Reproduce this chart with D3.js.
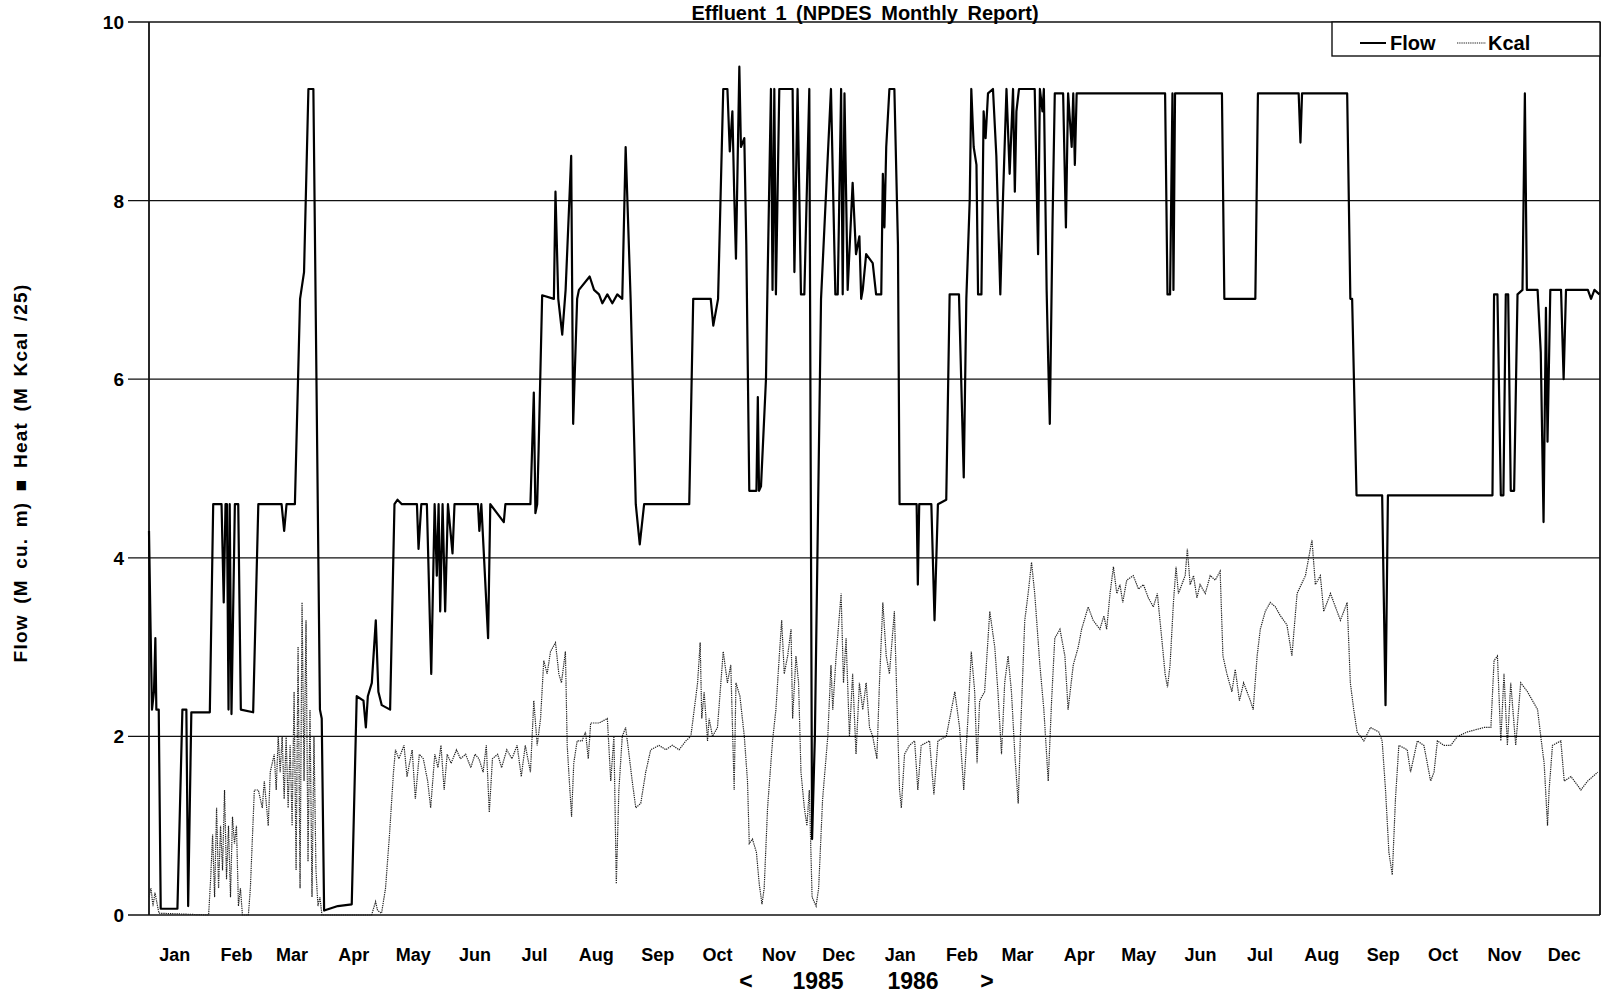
<!DOCTYPE html>
<html>
<head>
<meta charset="utf-8">
<title>Effluent 1 (NPDES Monthly Report)</title>
<style>
  body { margin: 0; background: #fff; }
  svg { display: block; font-family: "Liberation Sans", Arial, sans-serif; font-weight: bold; }
</style>
</head>
<body>
<div id="chart"></div>
<script src="https://d3js.org/d3.v7.min.js"></script>
<script>
// month labels along the bottom, two years
const monthLabels = ["Jan","Feb","Mar","Apr","May","Jun","Jul","Aug","Sep","Oct","Nov","Dec",
                     "Jan","Feb","Mar","Apr","May","Jun","Jul","Aug","Sep","Oct","Nov","Dec"];
const yTicks = [0, 2, 4, 6, 8, 10];

// [days since 1 Jan 1985, value]
const flowPoints = [
  [0,4.3],[0.8,3.2],[1.5,2.3],[2.5,2.5],[3.2,3.1],[3.7,2.3],[4.9,2.3],[5.9,0.07],[14.3,0.07],[16.8,2.3],
  [18.8,2.3],[19.7,0.1],[21.3,2.27],[30.6,2.27],[32.3,4.6],[36.5,4.6],[37.6,3.5],[38.5,4.6],[39.2,4.6],[40,2.3],
  [40.6,4.6],[41.5,2.25],[43.2,4.6],[44.9,4.6],[46.2,2.3],[52.4,2.27],[55,4.6],[66.7,4.6],[68,4.3],[69.2,4.6],
  [73.4,4.6],[76,6.9],[78,7.2],[80.2,9.25],[82.7,9.25],[86,2.3],[86.9,2.2],[88.1,0.05],[95,0.1],[102,0.12],
  [104.5,2.45],[107.9,2.4],[109.1,2.1],[110.1,2.45],[112.1,2.6],[114.1,3.3],[115.4,2.5],[117.1,2.35],[121.3,2.3],[123.5,4.6],
  [125,4.65],[127.2,4.6],[134.8,4.6],[135.6,4.1],[137,4.6],[139.8,4.6],[142,2.7],[143.7,4.6],[144.8,3.8],[145.7,4.6],
  [146.5,3.4],[147.7,4.6],[149,3.4],[150.4,4.6],[152.7,4.05],[153.7,4.6],[165.5,4.6],[166.2,4.3],[167.2,4.6],[170.6,3.1],
  [171.7,4.6],[178.5,4.4],[179.3,4.6],[191.9,4.6],[193.6,5.85],[194.4,4.5],[195.3,4.6],[196,5.2],[197.8,6.94],[203.7,6.9],
  [204.5,8.1],[205.9,6.9],[207.9,6.5],[209.6,7.0],[212.4,8.5],[213.4,5.5],[215.4,6.9],[216.3,7.0],[221.7,7.15],[223.9,7.0],
  [226.4,6.95],[228.1,6.85],[230.6,6.95],[233.1,6.85],[235.6,6.95],[238.1,6.9],[239.8,8.6],[242.3,6.9],[244.9,4.6],[246.9,4.15],
  [249.1,4.6],[271.8,4.6],[273.8,6.9],[282.6,6.9],[283.9,6.6],[286.3,6.9],[288.9,9.25],[291,9.25],[292.2,8.55],[293.5,9.0],
  [294.4,8.1],[295.3,7.35],[296.2,8.5],[297,9.5],[297.8,8.6],[299.5,8.7],[300.5,7.5],[302,4.75],[305.6,4.75],[306.3,5.8],
  [306.9,4.75],[307.9,4.8],[310.4,6.0],[311.2,7.1],[312.9,9.25],[313.7,7.0],[314.6,9.25],[315.4,6.95],[317.1,9.25],[323.8,9.25],
  [324.7,7.2],[326.3,9.25],[328,6.95],[329.7,6.95],[332.2,9.25],[333.6,0.85],[335,2.0],[338.1,6.9],[343.1,9.25],[345.3,6.95],
  [346.5,6.95],[348.2,9.25],[349,6.95],[349.9,9.2],[351.5,7.0],[354,8.2],[355.7,7.4],[357.4,7.6],[358.3,6.9],[359.1,7.0],
  [360.8,7.4],[364.1,7.3],[365.8,6.95],[368.4,6.95],[369.2,8.3],[370,7.7],[370.9,8.6],[372.5,9.25],[375,9.25],[376.8,7.5],
  [377.6,4.6],[386.2,4.6],[386.8,3.7],[387.5,4.6],[393.6,4.6],[395.2,3.3],[396.9,4.6],[401.1,4.65],[402.8,6.95],[407.5,6.95],
  [409.9,4.9],[411.2,6.9],[412.9,8.0],[413.7,9.25],[414.9,8.6],[416.3,8.4],[417.1,6.95],[418.8,6.95],[419.9,9.0],[420.9,8.7],
  [422.1,9.2],[424.6,9.25],[426.3,8.5],[428.3,6.95],[429.6,8.0],[431.4,9.25],[433,8.3],[434.7,9.25],[435.6,8.1],[436.4,9.0],
  [437.7,9.25],[445.6,9.25],[447.3,7.4],[448.2,9.25],[449.5,9.0],[450.2,9.25],[451.6,7.0],[452.4,6.2],[453.2,5.5],[454.6,7.8],
  [455.7,9.2],[459.9,9.2],[461.3,7.7],[462.4,9.2],[464.2,8.6],[465,9.2],[465.8,8.4],[466.7,9.2],[511.2,9.2],[512.4,6.95],
  [513.7,6.95],[514.9,9.2],[515.4,7.0],[516.2,9.2],[539.8,9.2],[541,6.9],[556.6,6.9],[557.9,9.2],[578.4,9.2],[579.3,8.65],
  [580.1,9.2],[602.8,9.2],[604.4,6.9],[605.3,6.9],[607.5,4.7],[620.4,4.7],[622.1,2.35],[623.3,4.7],[675.9,4.7],[676.7,6.95],
  [678.4,6.95],[680.1,4.7],[681.4,4.7],[682.6,6.95],[683.8,6.95],[685.1,4.75],[686.8,4.75],[688.5,6.95],[691,7.0],[692.2,9.2],
  [693.2,7.0],[698.6,7.0],[700.2,6.3],[701.6,4.4],[702.8,6.8],[703.6,5.3],[705,7.0],[710.4,7.0],[711.7,6.0],[712.9,7.0],
  [723.9,7.0],[725.5,6.9],[727.2,7.0],[729.7,6.95]
];

const kcalPoints = [
  [0,0.2],[1,0.3],[2,0.1],[3,0.25],[5,0.02],[30,0],[31,0.4],[32,0.9],[33,0.2],[34,1.2],
  [35,0.3],[36,1.0],[37,0.5],[38,1.4],[39,0.4],[40,1.0],[41,0.2],[42,1.1],[43,0.8],[44,1.0],
  [45,0.1],[46,0.3],[47,0],[50,0],[51,0.3],[53,1.4],[55,1.4],[57,1.2],[58,1.5],[60,1.0],
  [61,1.6],[63,1.8],[64,1.4],[65,2.0],[66,1.6],[67,2.0],[68,1.3],[69,2.0],[70,1.2],[71,1.9],
  [72,1.0],[73,2.5],[74,0.5],[75,3.0],[76,0.3],[77,3.5],[78,1.5],[79,3.3],[80,0.6],[81,2.3],
  [82,0.2],[83,2.0],[84,0.5],[85,0.1],[86,0.2],[87,0],[112,0],[114,0.15],[115,0.05],[117,0.02],
  [119,0.3],[121,0.9],[123,1.6],[124,1.85],[125.7,1.75],[128.3,1.9],[129.8,1.55],[132.4,1.85],[134,1.3],[136,1.8],
  [138,1.75],[140.2,1.5],[141.7,1.2],[143.8,1.8],[145.4,1.65],[146.9,1.9],[148.5,1.4],[150,1.8],[152,1.7],[154.7,1.85],
  [156.7,1.75],[159.3,1.8],[161.9,1.65],[164,1.8],[166,1.75],[168.1,1.6],[169.7,1.9],[171.2,1.15],[172.8,1.75],[175.4,1.8],
  [177.4,1.65],[180,1.85],[182.6,1.75],[185.2,1.9],[187.3,1.55],[189.3,1.9],[191.9,1.6],[193.6,2.4],[195.3,1.9],[197,2.2],
  [198.6,2.85],[200.3,2.7],[202,2.95],[204.5,3.05],[206.2,2.7],[207.5,2.6],[209.5,2.95],[210.4,1.9],[211.2,1.6],[212.6,1.1],
  [213.7,1.7],[215.4,1.95],[217.9,1.95],[219.6,2.05],[221,1.75],[222.2,2.15],[226.4,2.15],[230.6,2.2],[232.3,1.5],[233.9,2.0],
  [235.1,0.35],[236.4,1.4],[238.1,2.0],[239.8,2.1],[241.5,1.8],[243.1,1.5],[244.9,1.2],[247.4,1.25],[249.9,1.6],[252.4,1.85],
  [256.6,1.9],[260,1.85],[263.3,1.9],[266.7,1.85],[270.1,1.95],[272.6,2.0],[274.3,2.3],[276,2.6],[277.3,3.05],[278.1,2.2],
  [279.3,2.5],[281,1.95],[281.8,2.2],[283.5,2.0],[286,2.1],[288.9,2.95],[291,2.6],[292.7,2.8],[294.4,1.4],[295.3,2.6],
  [297.3,2.45],[299.5,2.0],[301.1,1.5],[302,0.8],[303.6,0.85],[305.6,0.7],[307,0.35],[308.4,0.12],[309.5,0.3],[311.2,1.2],
  [313.7,1.95],[315.4,2.3],[317.1,2.9],[318.3,3.3],[319.6,2.7],[321.3,2.9],[323,3.2],[323.8,2.2],[325.5,2.9],[326.8,2.6],
  [328,1.6],[329.7,1.2],[331,1.0],[332.2,1.4],[333.6,0.2],[335.6,0.1],[336.9,0.3],[338.9,1.3],[341.5,2.0],[343.1,2.8],
  [344,2.3],[345.7,2.9],[348.2,3.6],[349.4,2.6],[350.7,3.1],[352.4,2.0],[354,2.7],[355.7,1.8],[357.4,2.6],[359.1,2.3],
  [360.8,2.6],[362.5,2.1],[364.1,2.0],[366.2,1.75],[367.5,2.6],[369.2,3.5],[370.9,2.9],[372.5,2.7],[375,3.4],[376.8,2.0],
  [377.6,1.4],[378.5,1.2],[380.1,1.8],[382.6,1.9],[385.2,1.95],[386.8,1.4],[388.5,1.9],[392.7,1.95],[394.9,1.35],[396.9,1.95],
  [401.1,2.0],[403.7,2.3],[405.4,2.5],[407.8,2.1],[409.9,1.4],[412,2.2],[413.7,2.95],[415.4,2.5],[416.6,1.7],[417.9,2.4],
  [420.4,2.5],[423,3.4],[425.5,3.0],[427.1,2.5],[428.9,1.8],[430.5,2.6],[432.2,2.9],[433.9,2.5],[435.6,1.8],[437.3,1.25],
  [438.4,2.0],[440.6,3.3],[442.3,3.6],[444,3.95],[445.6,3.6],[448.2,2.8],[450.2,2.3],[452.4,1.5],[454.1,2.4],[455.7,3.1],
  [458.3,3.2],[460.8,2.9],[462.4,2.3],[465,2.8],[467.5,3.0],[469.2,3.2],[472.5,3.45],[475,3.3],[478.4,3.2],[480.4,3.35],
  [481.8,3.2],[483.5,3.6],[485.2,3.9],[486.9,3.6],[488.5,3.7],[489.9,3.5],[491.9,3.75],[495.2,3.8],[497.8,3.65],[500.3,3.7],
  [502.8,3.55],[505.3,3.45],[507.3,3.6],[509.5,3.1],[511.2,2.7],[512.4,2.55],[513.7,2.8],[515.4,3.5],[516.7,3.9],[517.9,3.6],
  [519.6,3.7],[521.3,3.8],[522.4,4.1],[523.8,3.7],[525.5,3.8],[527.2,3.55],[528.8,3.7],[531.4,3.6],[533.9,3.8],[536.4,3.75],
  [538.9,3.85],[540.3,2.9],[542.3,2.7],[544.8,2.5],[546.5,2.75],[548.6,2.4],[550.7,2.6],[552.4,2.5],[554.1,2.4],[555.5,2.3],
  [557.5,2.9],[559.1,3.2],[561.6,3.4],[564.1,3.5],[566.7,3.45],[569.2,3.35],[572.5,3.25],[575,2.9],[577.6,3.6],[581.8,3.8],
  [585.1,4.2],[586.8,3.7],[589.3,3.8],[591,3.4],[594.4,3.6],[599.4,3.3],[602.8,3.5],[604.4,2.6],[606.1,2.3],[607.8,2.05],
  [611.2,1.95],[614.5,2.1],[618.7,2.05],[620.4,1.95],[622.1,1.4],[623.8,0.7],[625.5,0.45],[627.1,1.3],[628.8,1.9],[633,1.85],
  [634.7,1.6],[638.1,1.95],[641.4,1.9],[644.8,1.5],[646.5,1.6],[648.2,1.95],[651.5,1.9],[654.9,1.9],[658.3,2.0],[663.3,2.05],
  [671.7,2.1],[675.1,2.1],[676.7,2.85],[678.4,2.9],[680.1,1.95],[681.7,2.7],[683.4,1.9],[685.1,2.6],[687.6,1.9],[690.1,2.6],
  [693.5,2.5],[698.6,2.3],[700.2,2.0],[701.9,1.7],[703.6,1.0],[704.4,1.4],[706.1,1.9],[710.3,1.95],[712,1.5],[715.4,1.55],
  [720.4,1.4],[723.8,1.5],[728.9,1.6]
];

const width = 1609, height = 1001;
const svg = d3.select("#chart")
  .append("svg")
  .attr("width", width)
  .attr("height", height);

svg.append("rect").attr("width", width).attr("height", height).attr("fill", "#fff");

const start = new Date(1985, 0, 1);
const toDate = d => new Date(start.getTime() + d * 864e5);

const x = d3.scaleTime()
  .domain([start, new Date(1987, 0, 1)])
  .range([149, 1600]);

const y = d3.scaleLinear()
  .domain([0, 10])
  .range([915, 22]);

// horizontal grid lines, each sticking out left as a tick
svg.append("g")
  .selectAll("line")
  .data(yTicks)
  .join("line")
  .attr("x1", 128)
  .attr("x2", x.range()[1])
  .attr("y1", d => y(d))
  .attr("y2", d => y(d))
  .attr("stroke", "#111")
  .attr("stroke-width", d => (d === 0 || d === 10) ? 1.6 : 1.3);

// left and right frame
svg.append("line")
  .attr("x1", x.range()[0]).attr("x2", x.range()[0])
  .attr("y1", y(10)).attr("y2", y(0))
  .attr("stroke", "#111").attr("stroke-width", 1.8);
svg.append("line")
  .attr("x1", x.range()[1]).attr("x2", x.range()[1])
  .attr("y1", y(10)).attr("y2", y(0))
  .attr("stroke", "#111").attr("stroke-width", 1.8);

// y tick labels
svg.append("g")
  .selectAll("text")
  .data(yTicks)
  .join("text")
  .attr("x", 124)
  .attr("y", d => y(d) + 7)
  .attr("text-anchor", "end")
  .attr("font-size", 19)
  .text(d => d);

// y axis title
svg.append("text")
  .attr("transform", "translate(27,473) rotate(-90)")
  .attr("text-anchor", "middle")
  .attr("font-size", 19)
  .attr("letter-spacing", 1.2)
  .attr("word-spacing", 4)
  .text("Flow (M cu. m) \u25A0 Heat (M Kcal /25)");

// month labels, placed at mid month
svg.append("g")
  .selectAll("text")
  .data(monthLabels)
  .join("text")
  .attr("x", (d, i) => x(new Date(1985 + Math.floor(i / 12), i % 12, 16)) - 4)
  .attr("y", 961)
  .attr("text-anchor", "middle")
  .attr("font-size", 18)
  .text(d => d);

// year line
const yearLabels = [["<", 746], ["1985", 818], ["1986", 913], [">", 987]];
svg.append("g")
  .selectAll("text")
  .data(yearLabels)
  .join("text")
  .attr("x", d => d[1])
  .attr("y", 989)
  .attr("text-anchor", "middle")
  .attr("font-size", 23)
  .text(d => d[0]);

// title, sitting right on the top edge as in the scan
svg.append("text")
  .attr("x", 865)
  .attr("y", 19.5)
  .attr("text-anchor", "middle")
  .attr("font-size", 20)
  .attr("word-spacing", 4)
  .text("Effluent 1 (NPDES Monthly Report)");

const line = d3.line()
  .x(d => x(toDate(d[0])))
  .y(d => y(d[1]));

svg.append("path")
  .datum(kcalPoints)
  .attr("fill", "none")
  .attr("stroke", "#222")
  .attr("stroke-width", 1.2)
  .attr("stroke-dasharray", "1.3 0.9")
  .attr("d", line);

svg.append("path")
  .datum(flowPoints)
  .attr("fill", "none")
  .attr("stroke", "#000")
  .attr("stroke-width", 2.2)
  .attr("stroke-linejoin", "round")
  .attr("d", line);

// legend box in the top right corner
const lg = svg.append("g");
lg.append("rect")
  .attr("x", 1332).attr("y", y(10))
  .attr("width", x.range()[1] - 1332).attr("height", 34)
  .attr("fill", "#fff").attr("stroke", "#111").attr("stroke-width", 1.4);
lg.append("line")
  .attr("x1", 1360).attr("x2", 1386).attr("y1", 43).attr("y2", 43)
  .attr("stroke", "#000").attr("stroke-width", 2);
lg.append("text")
  .attr("x", 1390).attr("y", 50).attr("font-size", 20).text("Flow");
lg.append("line")
  .attr("x1", 1457).attr("x2", 1486).attr("y1", 43).attr("y2", 43)
  .attr("stroke", "#222").attr("stroke-width", 1.2).attr("stroke-dasharray", "1.3 0.9");
lg.append("text")
  .attr("x", 1488).attr("y", 50).attr("font-size", 20).text("Kcal");
</script>
</body>
</html>
